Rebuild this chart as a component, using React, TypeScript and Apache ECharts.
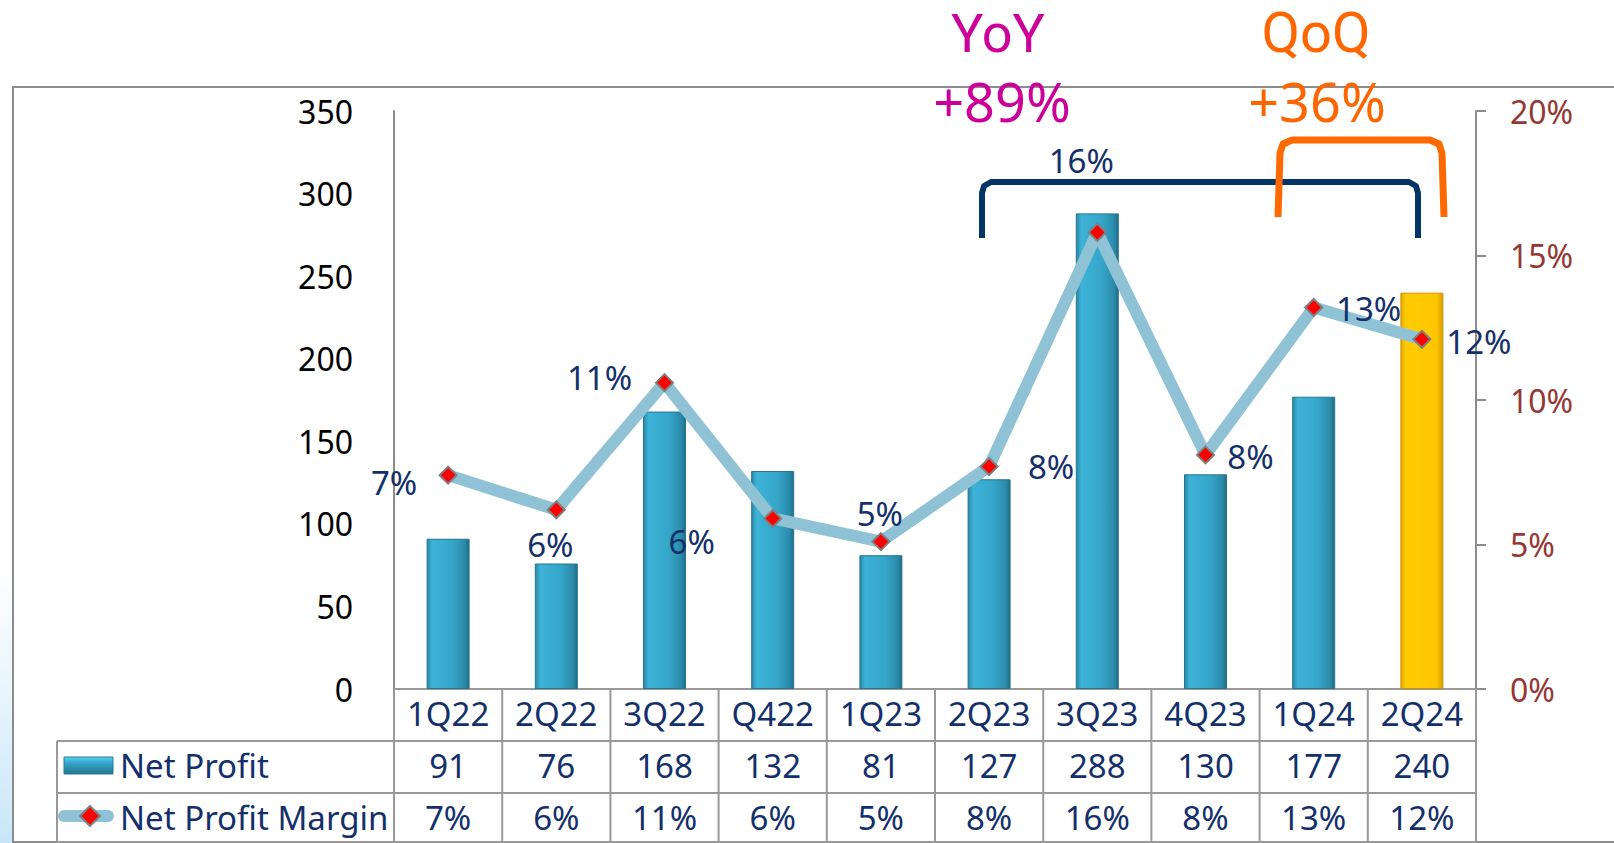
import React, { useEffect, useRef } from "react";
import * as echarts from "echarts";

// ---- data ----
const categories = ["1Q22", "2Q22", "3Q22", "Q422", "1Q23", "2Q23", "3Q23", "4Q23", "1Q24", "2Q24"];
const netProfit = [91, 76, 168, 132, 81, 127, 288, 130, 177, 240];
const netProfitMargin = [7.4, 6.2, 10.6, 5.9, 5.1, 7.7, 15.8, 8.1, 13.2, 12.1];
const leftAxis = { min: 0, max: 350, interval: 50 };
const rightAxis = { min: 0, max: 20, interval: 5 };
const seriesNames = ["Net Profit", "Net Profit Margin"];
const yoyText = ["YoY", "+89%"];
const qoqText = ["QoQ", "+36%"];

// ---- layout / style ----
const W = 1614;
const H = 843;
const GL = 394;
const GR = 1476;
const GT = 111;
const GB = 689;
const ROW = 51;
const FONT = "Noto Sans";
const NAVY = "#13306B";
const GRAY = "#8C8C8C";
const TFS = 33;
const labelOffsets: number[][] = [
  [-54, 7], [-6, 35], [-65, -5], [-81, 23], [-1, -28],
  [62, 0], [-16, -72], [45, 2], [55, 1], [57, 2],
];

const tealGrad = () =>
  new echarts.graphic.LinearGradient(0, 0, 1, 0, [
    { offset: 0, color: "#2A86A6" },
    { offset: 0.12, color: "#3DB3D7" },
    { offset: 0.6, color: "#35A6C9" },
    { offset: 0.9, color: "#2B8AAA" },
    { offset: 1, color: "#1F6C86" },
  ]);
const yellowGrad = () =>
  new echarts.graphic.LinearGradient(0, 0, 1, 0, [
    { offset: 0, color: "#E8A800" },
    { offset: 0.12, color: "#FFCC00" },
    { offset: 0.85, color: "#FFC600" },
    { offset: 1, color: "#D99E00" },
  ]);

export default function App() {
  const ref = useRef<HTMLDivElement>(null);
  useEffect(() => {
    if (!ref.current) return;
    const chart = echarts.init(ref.current, null, { renderer: "svg", width: W, height: H });
    const colW = (GR - GL) / categories.length;

    const graphics: any[] = [];
    graphics.push({
      type: "rect",
      shape: { x: 0, y: 560, width: 12, height: H - 560 },
      style: {
        fill: new echarts.graphic.LinearGradient(0, 0, 0, 1, [
          { offset: 0, color: "rgba(210,235,250,0)" },
          { offset: 1, color: "rgba(200,230,248,1)" },
        ]),
      },
      silent: true,
      z: 0,
    });
    graphics.push({
      type: "rect",
      shape: { x: 13, y: 87, width: 1700, height: 755 },
      style: { fill: "none", stroke: GRAY, lineWidth: 2 },
      silent: true,
      z: 0,
    });
    const tableBottom = GB + ROW * 3 + 0;
    const hl = (y: number, x1: number, x2: number) =>
      graphics.push({
        type: "line",
        shape: { x1, y1: y, x2, y2: y },
        style: { stroke: "#999999", lineWidth: 2 },
        silent: true,
        z: 1,
      });
    const vl = (x: number, y1: number, y2: number) =>
      graphics.push({
        type: "line",
        shape: { x1: x, y1, x2: x, y2 },
        style: { stroke: "#999999", lineWidth: 2 },
        silent: true,
        z: 1,
      });
    hl(GB + ROW + 1, 57, GR);
    hl(GB + ROW * 2 + 2, 57, GR);
    hl(tableBottom, 57, GR);
    vl(57, GB + ROW + 1, tableBottom);
    for (let i = 0; i <= categories.length; i++) vl(GL + i * colW, GB, tableBottom);

    graphics.push({
      type: "rect",
      shape: { x: 64, y: 757, width: 49, height: 17 },
      style: {
        fill: new echarts.graphic.LinearGradient(0, 0, 0, 1, [
          { offset: 0, color: "#5ED3F2" },
          { offset: 0.25, color: "#3AB0D4" },
          { offset: 1, color: "#24728C" },
        ]),
        stroke: "#2A7D98",
        lineWidth: 1,
      },
      silent: true,
      z: 2,
    });
    graphics.push({
      type: "rect",
      shape: { x: 58, y: 810, width: 56, height: 12, r: 6 },
      style: { fill: "#8FC2D4" },
      silent: true,
      z: 2,
    });
    graphics.push({
      type: "polygon",
      shape: { points: [[90, 806], [100, 816], [90, 826], [80, 816]] },
      style: { fill: "#FF0000", stroke: "#808080", lineWidth: 2 },
      silent: true,
      z: 3,
    });
    graphics.push({
      type: "text",
      x: 120,
      y: GB + ROW + 25,
      style: { text: seriesNames[0], font: `${TFS}px "${FONT}"`, fill: NAVY, verticalAlign: "middle", align: "left" },
      silent: true,
      z: 3,
    });
    graphics.push({
      type: "text",
      x: 120,
      y: GB + ROW * 2 + 26,
      style: { text: seriesNames[1], font: `${TFS}px "${FONT}"`, fill: NAVY, verticalAlign: "middle", align: "left" },
      silent: true,
      z: 3,
    });

    graphics.push({
      type: "polyline",
      shape: {
        points: [[982, 238], [982, 193], [984, 186], [991, 182], [1409, 182], [1416, 186], [1418, 193], [1418, 238]],
      },
      style: { stroke: "#053466", lineWidth: 6, fill: "none", lineJoin: "round" },
      silent: true,
      z: 5,
    });
    graphics.push({
      type: "polyline",
      shape: {
        points: [[1278, 217], [1280, 153], [1283, 144], [1292, 140], [1430, 140], [1439, 144], [1442, 153], [1444, 217]],
      },
      style: { stroke: "#FF6A00", lineWidth: 7, fill: "none", lineJoin: "round" },
      silent: true,
      z: 6,
    });
    const big = (text: string, x: number, y: number, color: string, family: string, size: number) =>
      graphics.push({
        type: "text",
        x,
        y,
        style: {
          text,
          fontSize: size,
          fontFamily: family,
          lineHeight: size,
          fill: color,
          align: "center",
          verticalAlign: "middle",
        },
        silent: true,
        z: 7,
      });
    big(yoyText[0], 998, 33, "#CC0099", "Roboto", 54);
    big(yoyText[1], 1002, 101, "#CC0099", FONT, 54);
    big(qoqText[0], 1316, 33, "#FF6600", "Roboto", 56);
    big(qoqText[1], 1317, 101, "#FF6600", FONT, 54);

    const tableAxis = (data: string[], offset: number) => ({
      type: "category",
      data,
      position: "bottom",
      offset,
      axisLine: { show: false },
      axisTick: { show: false },
      axisLabel: { interval: 0, margin: 8, fontSize: TFS, fontFamily: FONT, color: NAVY },
      splitLine: { show: false },
    });

    chart.setOption({
      animation: false,
      backgroundColor: "#ffffff",
      grid: { left: GL, right: W - GR, top: GT, bottom: H - GB, containLabel: false },
      xAxis: [
        {
          type: "category",
          data: categories,
          position: "bottom",
          axisLine: { show: true, lineStyle: { color: "#999999", width: 2 } },
          axisTick: { show: false },
          axisLabel: { interval: 0, margin: 8, fontSize: TFS, fontFamily: FONT, color: NAVY },
          splitLine: { show: false },
        },
        tableAxis(netProfit.map((v) => String(v)), ROW + 1),
        tableAxis(netProfitMargin.map((v) => Math.round(v) + "%"), ROW * 2 + 2),
      ],
      yAxis: [
        {
          type: "value",
          min: leftAxis.min,
          max: leftAxis.max,
          interval: leftAxis.interval,
          position: "left",
          axisLine: { show: true, lineStyle: { color: GRAY, width: 2 } },
          axisTick: { show: false },
          axisLabel: { margin: 41, fontSize: 32, fontFamily: FONT, color: "#000000" },
          splitLine: { show: false },
        },
        {
          type: "value",
          min: rightAxis.min,
          max: rightAxis.max,
          interval: rightAxis.interval,
          position: "right",
          axisLine: { show: true, lineStyle: { color: GRAY, width: 2 } },
          axisTick: { show: true, length: 10, lineStyle: { color: GRAY, width: 2 } },
          axisLabel: { margin: 34, fontSize: 32, fontFamily: FONT, color: "#953735", formatter: "{value}%" },
          splitLine: { show: false },
        },
      ],
      series: [
        {
          name: seriesNames[0],
          type: "bar",
          xAxisIndex: 0,
          yAxisIndex: 0,
          barWidth: 43,
          z: 2,
          itemStyle: { color: tealGrad(), borderColor: "#27758F", borderWidth: 1 },
          data: netProfit.map((v, i) =>
            i === netProfit.length - 1
              ? { value: v, itemStyle: { color: yellowGrad(), borderColor: "#C89200", borderWidth: 1 } }
              : v
          ),
        },
        {
          name: seriesNames[1],
          type: "line",
          xAxisIndex: 0,
          yAxisIndex: 1,
          z: 3,
          symbol: "diamond",
          symbolSize: 17,
          lineStyle: { color: "#8FC2D4", width: 12 },
          itemStyle: { color: "#FF0000", borderColor: "#7F7F7F", borderWidth: 2 },
          label: {
            show: true,
            position: "inside",
            fontSize: 33,
            fontFamily: FONT,
            color: NAVY,
            formatter: (p: any) => Math.round(p.value) + "%",
          },
          data: netProfitMargin.map((v, i) => ({ value: v, label: { offset: labelOffsets[i] } })),
        },
      ],
      graphic: graphics,
    });
    return () => chart.dispose();
  }, []);
  return (
    <div
      ref={ref}
      style={{ position: "absolute", left: 0, top: 0, width: W, height: H, background: "#fff" }}
    />
  );
}
